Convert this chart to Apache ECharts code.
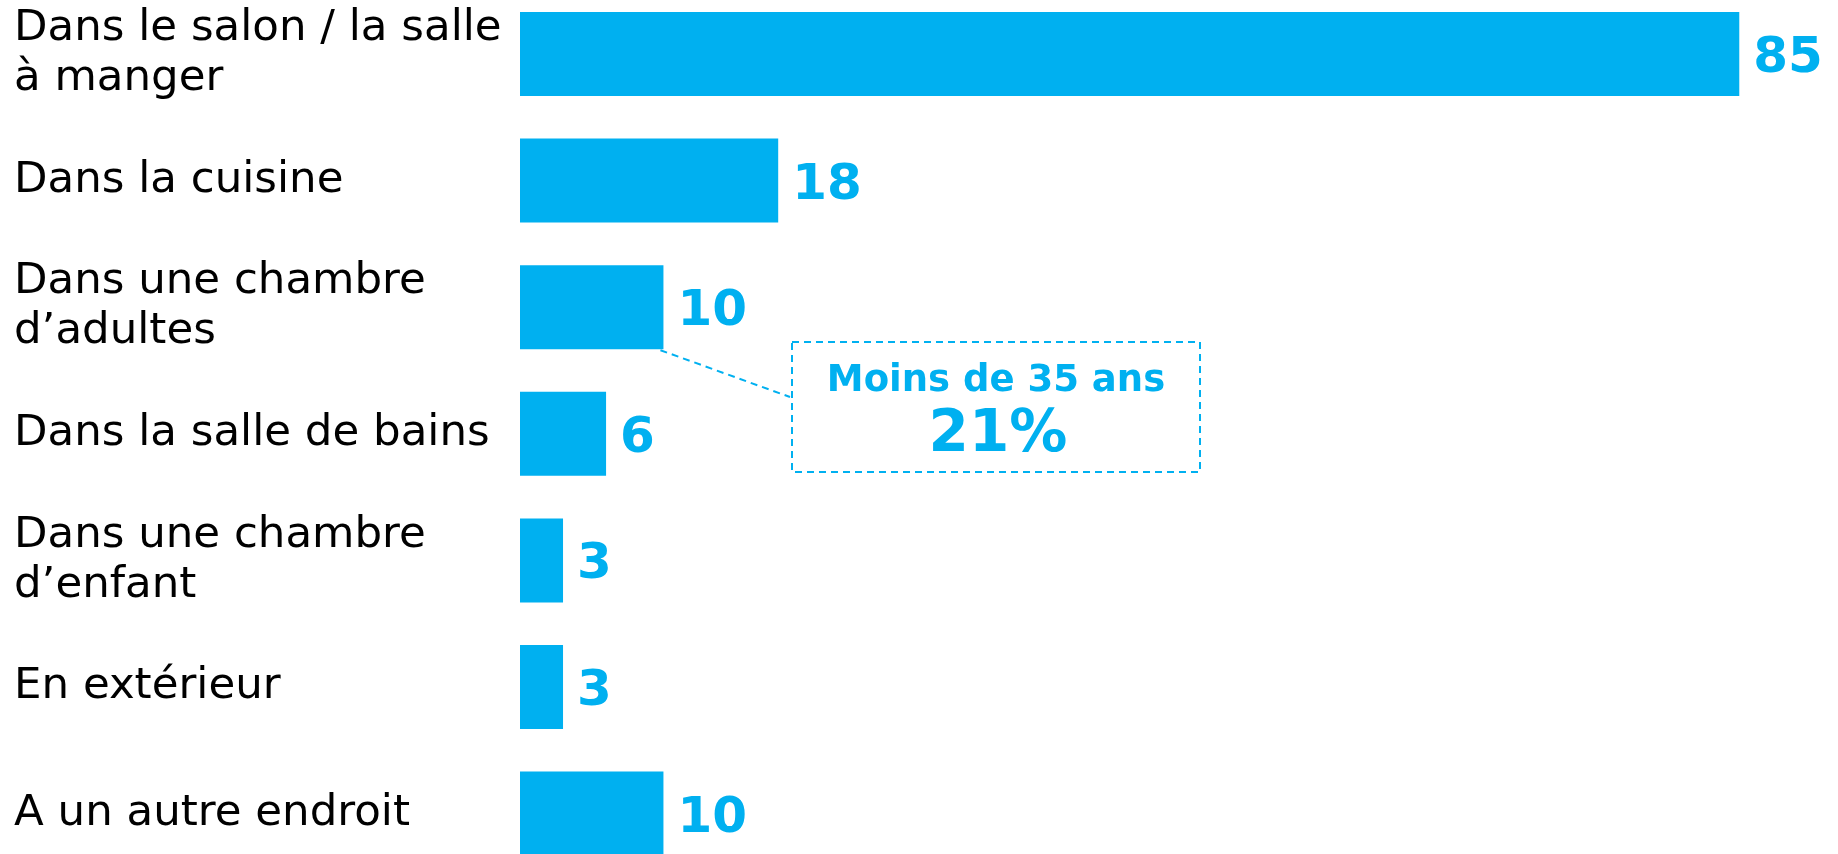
<!DOCTYPE html>
<html>
<head>
<meta charset="utf-8">
<style>
  html, body { margin: 0; padding: 0; background: #ffffff; }
  #chart { width: 1838px; height: 854px; }
</style>
<script src="https://cdn.jsdelivr.net/npm/echarts@6/dist/echarts.min.js"></script>
</head>
<body>
<div id="chart"></div>
<script>
// Where the item is kept at home (%)
const categories = [
  'Dans le salon / la salle\nà manger',
  'Dans la cuisine',
  'Dans une chambre\nd\u2019adultes',
  'Dans la salle de bains',
  'Dans une chambre\nd\u2019enfant',
  'En ext\u00e9rieur',
  'A un autre endroit'
];
const values = [85, 18, 10, 6, 3, 3, 10];

// Callout attached to the "chambre d'adultes" bar
const calloutIndex = 2;
const calloutTitle = 'Moins de 35 ans';
const calloutValue = 21;

const BLUE = '#00B0F0';
const FONT = 'DejaVu Sans, Verdana, sans-serif';

const chart = echarts.init(document.getElementById('chart'), null, { renderer: 'canvas' });

const BAR_WIDTH = 84;

chart.setOption({
  animation: false,
  backgroundColor: '#ffffff',
  grid: { left: 520, right: 27, top: -9.3, height: 886.2, outerBoundsMode: 'none' },
  xAxis: {
    type: 'value',
    min: 0,
    max: 90,
    show: false,
    splitLine: { show: false }
  },
  yAxis: {
    type: 'category',
    inverse: true,
    data: categories,
    axisLine: { show: false },
    axisTick: { show: false },
    splitLine: { show: false },
    axisLabel: {
      align: 'left',
      margin: 506,
      color: '#000000',
      fontFamily: FONT,
      fontSize: 43.5,
      lineHeight: 50,
      padding: [6, 0, 0, 0]
    }
  },
  series: [{
    type: 'bar',
    data: values,
    barWidth: BAR_WIDTH,
    itemStyle: { color: BLUE },
    label: {
      show: true,
      position: 'right',
      distance: 14,
      offset: [0, 5],
      formatter: '{c}',
      color: BLUE,
      fontFamily: FONT,
      fontWeight: 'bold',
      fontSize: 50
    }
  }]
});

// Callout box with a dashed leader from the bar's lower-right corner
const corner = chart.convertToPixel({ seriesIndex: 0 }, [values[calloutIndex], calloutIndex]);
const barBottom = corner[1] + BAR_WIDTH / 2;

const box = { x: 792, y: 342, w: 408, h: 130 };
const cx = box.x + box.w / 2;
const dash = [7, 5];

chart.setOption({
  graphic: [
    {
      type: 'line',
      shape: { x1: corner[0] - 3, y1: barBottom + 1, x2: box.x - 2, y2: 397 },
      style: { stroke: BLUE, lineWidth: 2, lineDash: dash },
      silent: true
    },
    {
      type: 'rect',
      shape: { x: box.x, y: box.y, width: box.w, height: box.h },
      style: { fill: 'none', stroke: BLUE, lineWidth: 2, lineDash: dash },
      silent: true
    },
    {
      type: 'text',
      x: cx,
      y: 381,
      style: {
        text: calloutTitle,
        fill: BLUE,
        font: 'bold 37px ' + FONT,
        align: 'center',
        verticalAlign: 'middle'
      },
      silent: true
    },
    {
      type: 'text',
      x: cx + 2,
      y: 436,
      style: {
        text: calloutValue + '%',
        fill: BLUE,
        font: 'bold 58px ' + FONT,
        align: 'center',
        verticalAlign: 'middle'
      },
      silent: true
    }
  ]
});
</script>
</body>
</html>
